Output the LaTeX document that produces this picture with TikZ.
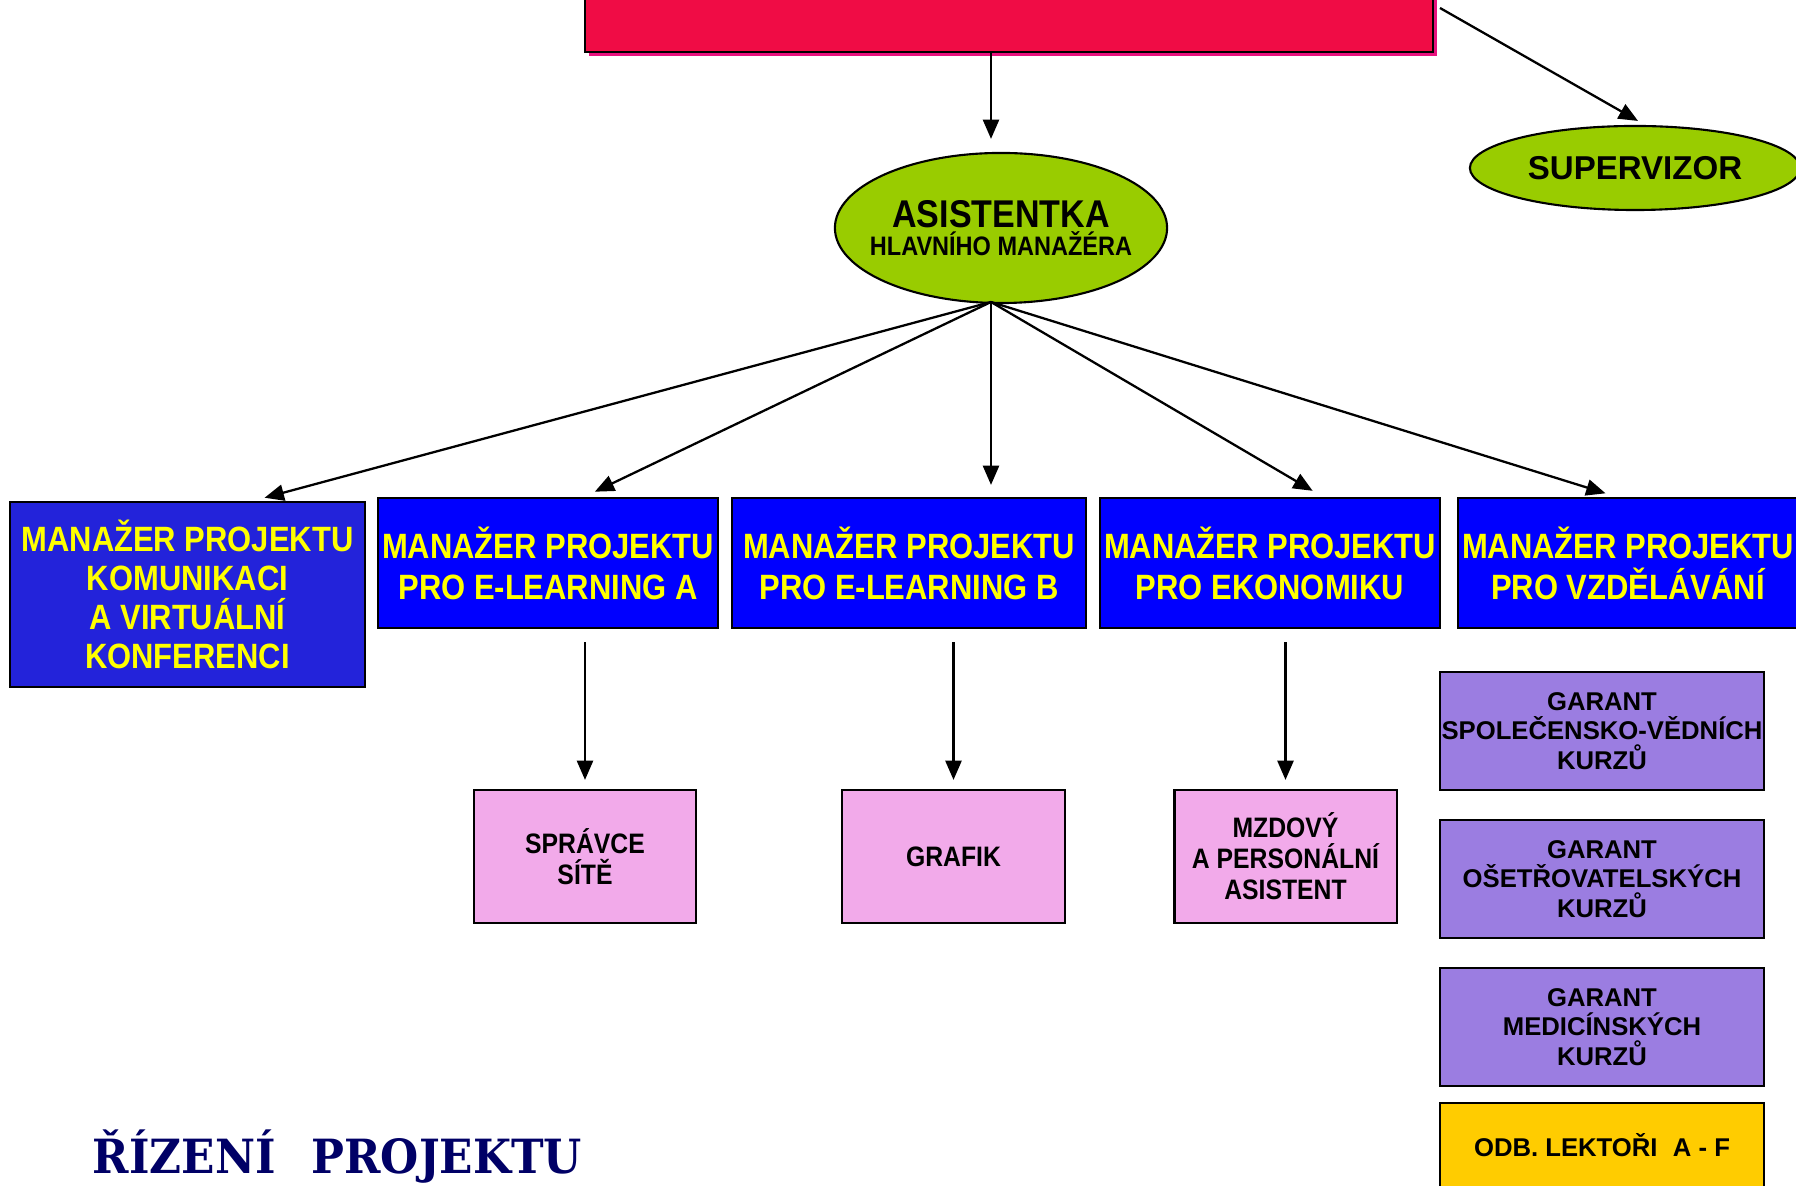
\documentclass[tikz,border=0pt]{standalone}
\usepackage{fontspec}
\setmainfont{Liberation Sans}
\newfontfamily\narrowfont{Liberation Sans}[FakeStretch=0.88]
\newfontfamily\titlefont{DejaVu Serif}[FakeStretch=0.93]
\usetikzlibrary{shapes.geometric,shadows,arrows.meta,calc}
\definecolor{topred}{HTML}{F00C45}
\definecolor{topshadow}{HTML}{E8127E}
\definecolor{ovalgreen}{HTML}{99CC00}
\definecolor{mgrblue}{HTML}{0000FF}
\definecolor{mgrblueA}{HTML}{2323DA}
\definecolor{mgryellow}{HTML}{FFFF00}
\definecolor{staffpink}{HTML}{F2AAEA}
\definecolor{garantlilac}{HTML}{9B7DE1}
\definecolor{lectoryellow}{HTML}{FFCC00}
\definecolor{titlenavy}{HTML}{000066}
\begin{document}
\begin{tikzpicture}[x=0.01cm,y=-0.01cm,
  box/.style={draw=black,line width=0.6pt,rectangle,inner sep=0pt,align=center},
  mgr/.style={box,fill=mgrblue,text=mgryellow,minimum width=3.4cm,minimum height=1.3cm,
    font=\narrowfont\bfseries\fontsize{10}{11.7}\selectfont},
  staff/.style={box,fill=staffpink,minimum width=2.22cm,minimum height=1.33cm,
    font=\narrowfont\bfseries\fontsize{8}{8.8}\selectfont},
  garant/.style={box,fill=garantlilac,minimum width=3.24cm,minimum height=1.18cm,
    font=\bfseries\fontsize{7.3}{8.3}\selectfont},
  oval/.style={ellipse,draw=black,line width=0.6pt,fill=ovalgreen,inner sep=0pt},
  arr/.style={-{Triangle[length=5.5pt,width=4.6pt]},line width=0.65pt}]
\useasboundingbox (0,0) rectangle (1796,1186);
\clip (0,0) rectangle (1796,1186);
\node[box,fill=topred,minimum width=8.48cm,minimum height=0.9cm,
  general shadow={fill=topshadow,shadow xshift=1.2pt,shadow yshift=-1.2pt}] (head) at (1009,7) {};
\node[oval,minimum width=3.32cm,minimum height=1.5cm] (asist) at (1001,228) {};
\node[align=center,inner sep=0pt,font=\narrowfont\bfseries\fontsize{11}{8}\selectfont] (asisttext) at (asist)
  {ASISTENTKA\\{\fontsize{7.6}{8}\selectfont HLAVNÍHO MANAŽÉRA}};
\coordinate (fan) at (991,302);
\node[oval,minimum width=3.3cm,minimum height=0.84cm,font=\bfseries\fontsize{9.4}{11}\selectfont] (sv) at (1635,168) {SUPERVIZOR};
\coordinate (svfrom) at (1440,8);
\draw[arr,shorten >=0.13cm] (fan |- head.south) -- (fan |- asist.north);
\draw[arr,shorten >=0.08cm] (svfrom) -- ($(sv.north)+(10,0)$);
\node[mgr,fill=mgrblueA,minimum width=3.55cm,minimum height=1.85cm,
  font=\narrowfont\bfseries\fontsize{10}{11.1}\selectfont] (m1) at (187.5,594.5)
  {MANAŽER PROJEKTU\\KOMUNIKACI\\A VIRTUÁLNÍ\\KONFERENCI};
\node[mgr] (m2) at (548,563) {MANAŽER PROJEKTU\\PRO E-LEARNING A};
\node[mgr,minimum width=3.54cm] (m3) at (909,563) {MANAŽER PROJEKTU\\PRO E-LEARNING B};
\node[mgr] (m4) at (1270,563) {MANAŽER PROJEKTU\\PRO EKONOMIKU};
\node[mgr] (m5) at (1628,563) {MANAŽER PROJEKTU\\PRO VZDĚLÁVÁNÍ};
\foreach \n/\dx in {m1/65.5,m2/36,m3/82,m4/53,m5/-11}
  \draw[arr,shorten >=0.12cm] (fan) -- ($(\n.north)+(\dx,0)$);
\node[staff] (p1) at (585,856.5) {SPRÁVCE\\SÍTĚ};
\node[staff] (p2) at (953.5,856.5) {GRAFIK};
\node[staff] (p3) at (1285.5,856.5) {MZDOVÝ\\A PERSONÁLNÍ\\ASISTENT};
\foreach \m/\p in {m2/p1,m3/p2,m4/p3}
  \draw[arr,shorten <=0.13cm,shorten >=0.09cm] (\p.north |- \m.south) -- (\p.north);
\foreach \y/\t [count=\i] in {731/{SPOLEČENSKO-VĚDNÍCH},879/{OŠETŘOVATELSKÝCH},1027/{MEDICÍNSKÝCH}}
  \node[garant] (g\i) at (1602,\y) {GARANT\\\t\\KURZŮ};
\node[garant,fill=lectoryellow,minimum height=0.84cm] (lect) at (1602,1145) {ODB. LEKTOŘI\hspace{0.6em}A - F};
\node[anchor=base west,inner sep=0pt,text=titlenavy,font=\titlefont\bfseries\fontsize{13.4}{16}\selectfont] (title)
  at (92,1174) {ŘÍZENÍ\hspace{0.36cm}PROJEKTU};
\end{tikzpicture}
\end{document}
